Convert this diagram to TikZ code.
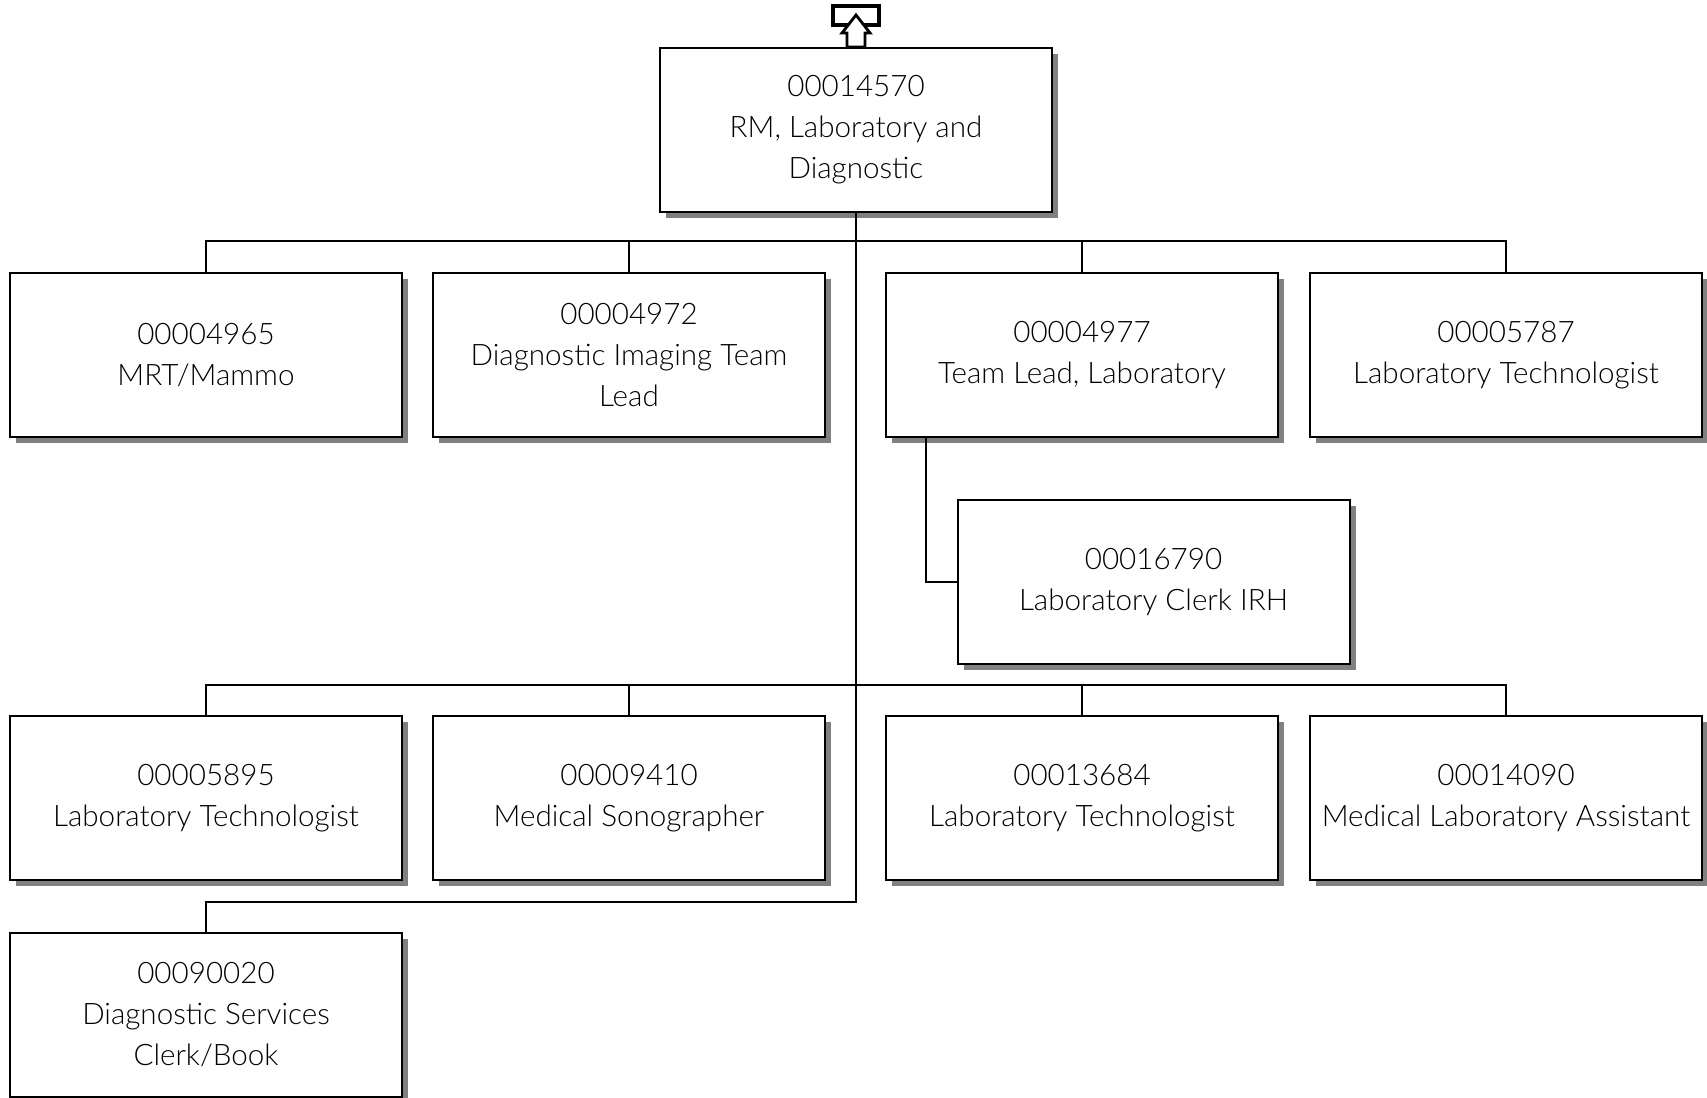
\documentclass[tikz,border=0pt]{standalone}
\usepackage{fontspec}
\setmainfont{Lato Light}
\usetikzlibrary{shadows}

\begin{document}
\begin{tikzpicture}[x=0.5pt,y=-0.5pt,
  post/.style={draw,line width=1pt,fill=white,rectangle,minimum width=196pt,minimum height=82pt,inner sep=2pt,align=center,font=\fontsize{14.8}{20.5}\selectfont,drop shadow={shadow xshift=3pt,shadow yshift=-3pt,fill=black!50,opacity=1}},
  link/.style={line width=1pt}]
\useasboundingbox (0,0) rectangle (1707,1097);
% head of the unit
\node[post] (top) at (856,130) {00014570\\RM, Laboratory and\\Diagnostic};
\node[draw,line width=1.6pt,minimum width=23pt,minimum height=9.5pt,inner sep=0pt] (up) at (856,15.5) {};
\draw[line width=1.4pt,fill=white] (856,15) -- (870,33) -- (865,33) -- (865,47) -- (847,47) -- (847,33) -- (842,33) -- cycle;
% first row
\foreach \x/\name/\lbl in %
{206/a/{00004965\\MRT/Mammo},629/b/{00004972\\Diagnostic Imaging Team\\Lead},1082/c/{00004977\\Team Lead, Laboratory},1506/d/{00005787\\Laboratory Technologist}} {
   \node[post] (r1\name) at (\x,355) {\lbl};
}
\node[post] (clerk) at (1153.5,582) {00016790\\Laboratory Clerk IRH};
% second row
\foreach \x/\name/\lbl in %
{206/a/{00005895\\Laboratory Technologist},629/b/{00009410\\Medical Sonographer},1082/c/{00013684\\Laboratory Technologist},1506/d/{00014090\\Medical Laboratory Assistant}} {
   \node[post] (r2\name) at (\x,798) {\lbl};
}
\node[post] (book) at (206,1015) {00090020\\Diagnostic Services\\Clerk/Book};
% lines
\coordinate (bus1) at (856,241);
\coordinate (bus2) at (856,685);
\coordinate (bus3) at (856,902);
\draw[link] (top.south) -- (bus3) -| (book.north);
\foreach \name in {a,b,c,d} {
   \draw[link] (bus1) -| (r1\name.north);
   \draw[link] (bus2) -| (r2\name.north);
}
\draw[link] ([xshift=20.5pt]r1c.south west) |- (clerk.west);
\end{tikzpicture}
\end{document}
